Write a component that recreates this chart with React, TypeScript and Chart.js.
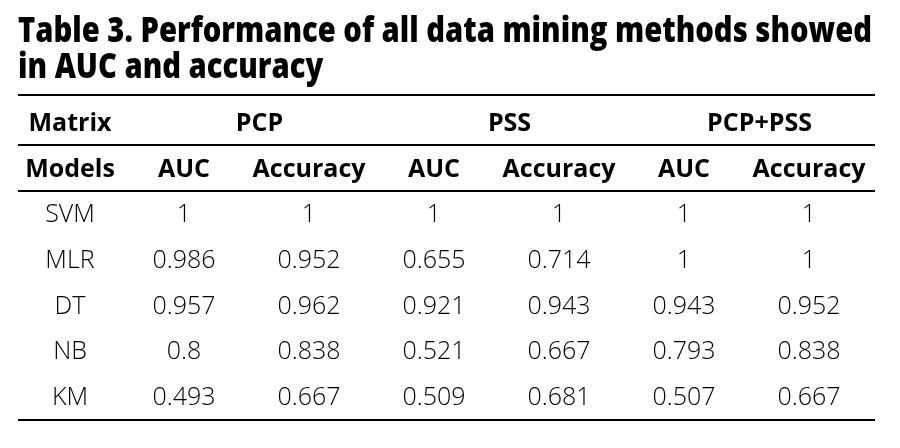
import { useEffect, useRef } from "react";
import { Chart, registerables } from "chart.js";

Chart.register(...registerables);

// ---- data ----
const TITLE_LINES = [
  "Table 3. Performance of all data mining methods showed",
  "in AUC and accuracy",
];
const STUB_HEAD = "Matrix";
const STUB_SUBHEAD = "Models";
const FEATURE_SETS = ["PCP", "PSS", "PCP+PSS"];
const METRICS = ["AUC", "Accuracy"];
const MODELS = ["SVM", "MLR", "DT", "NB", "KM"];
const PCP_AUC = [1, 0.986, 0.957, 0.8, 0.493];
const PCP_ACC = [1, 0.952, 0.962, 0.838, 0.667];
const PSS_AUC = [1, 0.655, 0.921, 0.521, 0.509];
const PSS_ACC = [1, 0.714, 0.943, 0.667, 0.681];
const BOTH_AUC = [1, 1, 0.943, 0.793, 0.507];
const BOTH_ACC = [1, 1, 0.952, 0.838, 0.667];

const SERIES = [PCP_AUC, PCP_ACC, PSS_AUC, PSS_ACC, BOTH_AUC, BOTH_ACC];

// ---- layout / style ----
const W = 900;
const H = 448;
const FONT = '"Open Sans", "DejaVu Sans", sans-serif';
const RULE_LEFT = 18;
const RULE_RIGHT = 875;
const STUB_GAP = 114;
const GROUP_SHIFT = 13;
const CAP_HALF = 9;
const TEXT_SIZE = 25;

const COLUMN_KEYS = FEATURE_SETS.flatMap((f) => METRICS.map((m) => `${f} ${m}`));
const ROW_KEYS = [STUB_HEAD, STUB_SUBHEAD, ...MODELS];

type Cell = { x: string; y: string; text: string; kind: "group" | "head" | "body" };

function buildCells(): Cell[] {
  const cells: Cell[] = [];
  FEATURE_SETS.forEach((f) => {
    cells.push({ x: `${f} ${METRICS[0]}`, y: STUB_HEAD, text: f, kind: "group" });
    METRICS.forEach((m) => cells.push({ x: `${f} ${m}`, y: STUB_SUBHEAD, text: m, kind: "head" }));
  });
  SERIES.forEach((vals, c) => {
    vals.forEach((v, r) => {
      cells.push({ x: COLUMN_KEYS[c], y: MODELS[r], text: String(v), kind: "body" });
    });
  });
  return cells;
}

const tablePlugin = {
  id: "tableText",
  afterDraw(chart: any) {
    const ctx: CanvasRenderingContext2D = chart.ctx;
    const xs = chart.scales.x;
    const ys = chart.scales.y;
    ctx.save();
    ctx.fillStyle = "#000";

    // title
    ctx.font = `800 36px ${FONT}`;
    ctx.textAlign = "left";
    ctx.textBaseline = "alphabetic";
    const w1 = ctx.measureText(TITLE_LINES[0]).width;
    const sx = (RULE_RIGHT - 3 - RULE_LEFT) / w1;
    ctx.save();
    ctx.translate(RULE_LEFT, 42);
    ctx.scale(sx, 1);
    TITLE_LINES.forEach((line, i) => ctx.fillText(line, 0, i * 36));
    ctx.restore();

    // rules
    const step = ys.getPixelForValue(1) - ys.getPixelForValue(0);
    const yOf = (i: number) => ys.getPixelForValue(i);
    const rules = [
      yOf(0) - 0.6 * step - CAP_HALF,
      (yOf(0) + yOf(1)) / 2 - CAP_HALF,
      (yOf(1) + yOf(2)) / 2 - CAP_HALF,
      yOf(ROW_KEYS.length - 1) + 0.53 * step - CAP_HALF,
    ];
    ctx.strokeStyle = "#000";
    ctx.lineWidth = 2;
    rules.forEach((ry) => {
      ctx.beginPath();
      ctx.moveTo(RULE_LEFT, Math.round(ry));
      ctx.lineTo(RULE_RIGHT, Math.round(ry));
      ctx.stroke();
    });

    // stub column
    ctx.textAlign = "center";
    const stubX = xs.getPixelForValue(0) - STUB_GAP;
    ROW_KEYS.forEach((label, i) => {
      ctx.font = i < 2 ? `bold ${TEXT_SIZE}px ${FONT}` : `300 ${TEXT_SIZE}px ${FONT}`;
      ctx.fillText(label, stubX, yOf(i));
    });

    // cells
    const meta = chart.getDatasetMeta(0);
    const data: Cell[] = chart.data.datasets[0].data;
    meta.data.forEach((el: any, i: number) => {
      const d = data[i];
      let px = el.x;
      if (d.kind === "group") {
        const ci = COLUMN_KEYS.indexOf(d.x);
        px = (xs.getPixelForValue(ci) + xs.getPixelForValue(ci + 1)) / 2 + GROUP_SHIFT;
      }
      ctx.font = d.kind === "body" ? `300 ${TEXT_SIZE}px ${FONT}` : `bold ${TEXT_SIZE}px ${FONT}`;
      ctx.fillText(d.text, px, el.y);
    });
    ctx.restore();
  },
};

export default function App() {
  const ref = useRef<HTMLCanvasElement | null>(null);
  useEffect(() => {
    if (!ref.current) return;
    const chart = new Chart(ref.current, {
      type: "scatter",
      data: {
        datasets: [
          {
            data: buildCells() as any,
            pointRadius: 0,
            pointHoverRadius: 0,
            backgroundColor: "transparent",
            borderColor: "transparent",
          },
        ],
      },
      options: {
        responsive: false,
        animation: false,
        events: [],
        layout: { padding: { left: 184, right: 91, top: 131, bottom: 43 } },
        scales: {
          x: { type: "category", labels: COLUMN_KEYS, offset: false, display: false },
          y: { type: "category", labels: ROW_KEYS, offset: false, display: false },
        },
        plugins: { legend: { display: false }, tooltip: { enabled: false } },
      },
      plugins: [tablePlugin],
    });
    return () => chart.destroy();
  }, []);
  return (
    <div style={{ position: "fixed", left: 0, top: 0, width: W, height: H, background: "#fff" }}>
      <canvas ref={ref} width={W} height={H} />
    </div>
  );
}
